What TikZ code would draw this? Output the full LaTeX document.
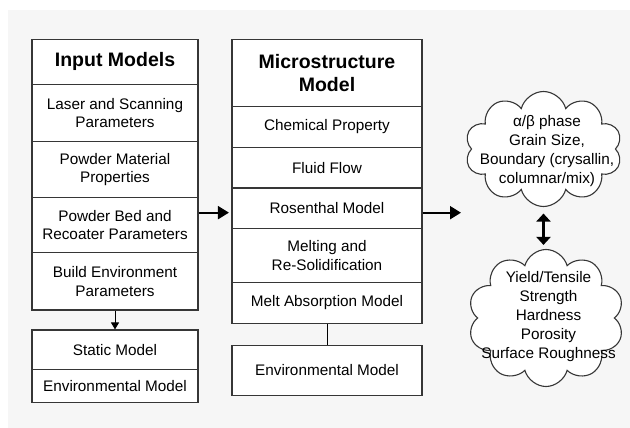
\documentclass[tikz,border=0pt]{standalone}
\usepackage{fontspec}
\setmainfont{Liberation Sans}
\usetikzlibrary{arrows.meta,positioning,calc,shapes.symbols}
\definecolor{edge}{HTML}{363636}
\definecolor{panel}{HTML}{F6F6F6}

\begin{document}
\begin{tikzpicture}[x=1pt, y=-1pt, >=Stealth,
  cell/.style={draw=edge, fill=white, line width=1.1pt, inner sep=0pt, align=center,
               font=\fontsize{15.3}{18.5}\selectfont},
  headcell/.style={cell, font=\fontsize{19.5}{23.5}\selectfont\bfseries},
  flow/.style={-{Triangle[length=11pt,width=13pt]}, line width=2pt},
  puff/.style={cloud, cloud puffs=10, draw=edge, fill=white, line width=1.1pt, inner sep=0pt},
  puffnote/.style={align=center, inner sep=0pt, font=\fontsize{15.3}{19}\selectfont}]

% ---------- page and panel
\fill[white] (0,0) rectangle (630,428);
\fill[panel] (8,10) rectangle (630,428);
\useasboundingbox (0,0) rectangle (630,428);

% ---------- input models column
\node[headcell, minimum width=166pt, minimum height=45pt] (in-title) at (115,61.8) {Input Models};
\foreach \nm/\t/\b/\txt in {laser/84.3/141.7/{Laser and Scanning\\Parameters},
    powder/141.7/197.3/{Powder Material\\Properties},
    bed/197.3/252.7/{Powder Bed and\\Recoater Parameters},
    build/252.7/310/{Build Environment\\Parameters},
    static/330/369.3/{Static Model},
    env/369.3/402.7/{Environmental Model}}{
  \pgfmathsetmacro\h{\b-\t}
  \node[cell, minimum width=166pt, minimum height=\h pt] (in-\nm) at (115,{(\t+\b)/2}) {\txt};
}

% ---------- microstructure column
\node[headcell, minimum width=190pt, minimum height=67.4pt] (ms-title) at (327,73) {Microstructure\\Model};
\foreach \nm/\t/\b/\txt in {chem/106.7/147.3/{Chemical Property},
    fluid/147.3/188/{Fluid Flow},
    ros/188/228.3/{Rosenthal Model},
    melt/228.3/282.3/{Melting and\\Re-Solidification},
    abs/282.3/323.7/{Melt Absorption Model},
    env/345.3/395.3/{Environmental Model}}{
  \pgfmathsetmacro\h{\b-\t}
  \node[cell, minimum width=190pt, minimum height=\h pt] (ms-\nm) at (327,{(\t+\b)/2}) {\txt};
}

% ---------- outcome clouds
\node[puff, minimum width=157pt, minimum height=115pt] (phase) at (543.5,149) {};
\node[puffnote] (phase-txt) at (547,151.5) {α/β phase\\Grain Size,\\Boundary (crysallin,\\columnar/mix)};
\node[puff, minimum width=156pt, minimum height=137pt] (mech) at (546,318) {};
\node[puffnote] (mech-txt) at (548.5,317) {Yield/Tensile\\Strength\\Hardness\\Porosity\\Surface Roughness};

% ---------- connectors
\coordinate (phase-in) at (461,212.7);
\draw[flow, shorten >=2.5pt] ($(in-bed.east |- ms-ros.west)+(0,4.5)$) -- ($(ms-ros.west)+(0,4.5)$);
\draw[flow] (ms-ros.east |- phase-in) -- (phase-in);
\draw[{Triangle[length=8pt,width=14pt]}-{Triangle[length=8pt,width=14pt]}, line width=2.3pt,
      shorten <=6.5pt, shorten >=4pt] (phase.south) -- (phase.south |- mech.north);
\draw[-{Triangle[length=7pt,width=8pt]}, line width=1pt] (in-build.south) -- (in-static.north);
\draw[line width=1pt] (ms-abs.south) -- (ms-env.north);

\end{tikzpicture}
\end{document}
